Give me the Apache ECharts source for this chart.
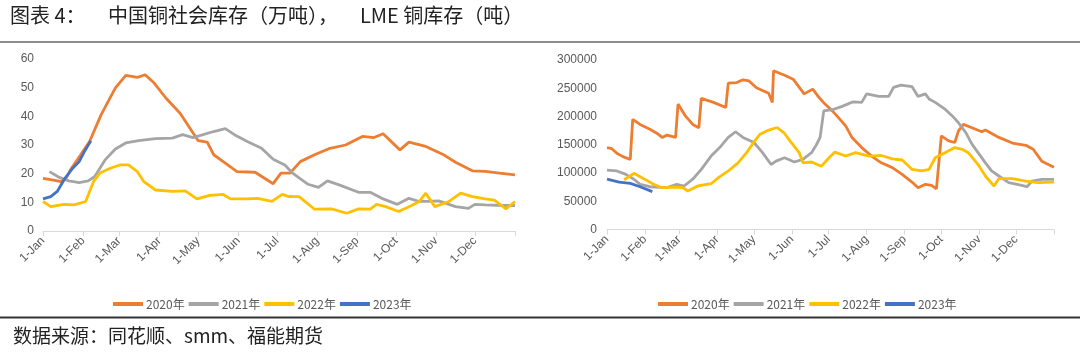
<!DOCTYPE html>
<html><head><meta charset="utf-8">
<script src="https://cdn.jsdelivr.net/npm/echarts@6/dist/echarts.min.js"></script>
<style>html,body{margin:0;padding:0;background:#fff}#c{width:1080px;height:357px}</style>
</head><body><div id="c"></div>
<script>
// ---- data ----
const monthStarts = [0,31,59,90,120,151,181,212,243,273,304,334,365];
const monthLabels = ['1-Jan','1-Feb','1-Mar','1-Apr','1-May','1-Jun','1-Jul','1-Aug','1-Sep','1-Oct','1-Nov','1-Dec'];
const seriesNames = ['2020年','2021年','2022年','2023年'];
const cnTicks = [0,10,20,30,40,50,60];
const lmeTicks = [0,50000,100000,150000,200000,250000,300000];

// 中国铜社会库存（万吨）
const cn2020Days = [0,7,14,18,22,29,36,45,56,64,73,79,86,95,106,112,120,127,132,141,150,164,178,184,191,199,210,221,234,247,256,263,276,283,296,309,319,332,342,353,365];
const cn2020Vals = [18.4,17.8,17.2,18.5,21.9,26.5,31.2,40.6,49.9,54.3,53.6,54.5,51.6,46.4,41.1,37,31.5,31,26.6,23.7,20.7,20.5,16.5,20.2,20.2,24.2,26.6,28.7,30,33,32.6,33.9,28.3,31,29.5,26.8,24,21,20.8,20.2,19.6];
const cn2021Days = [5,13,20,28,35,40,48,56,64,74,87,100,108,116,132,141,148,158,169,178,187,193,205,213,220,229,244,253,262,274,283,291,298,306,319,329,334,342,355,365];
const cn2021Vals = [20.7,18.6,17.5,16.9,17.5,19,24.8,28.6,30.7,31.5,32.2,32.4,33.6,32.6,34.7,35.7,33.6,31.2,28.9,25,23,20.2,16.3,15.2,17.5,16.1,13.5,13.5,11.4,9.3,11.4,10.3,10.3,10.5,8.5,7.9,9.3,9.1,8.9,8.9];
const cn2022Days = [0,6,16,24,33,39,44,52,60,66,73,78,87,100,110,119,129,139,145,158,166,177,185,190,198,210,223,235,244,253,258,265,275,285,291,296,303,314,323,332,342,349,358,365];
const cn2022Vals = [10.3,8.5,9.3,9.1,10.3,17.2,20.2,21.9,23.1,23.1,20.7,17.2,14.3,13.8,14,11.2,12.4,12.8,11.2,11.2,11.4,10.3,12.8,12,12,7.6,7.7,6.2,7.7,7.6,9.3,8.5,6.8,8.9,10.3,13.2,8.5,10.3,13.2,12,11.2,10.8,7.7,10.3];
const cn2023Days = [0,6,11,17,23,28,32,37];
const cn2023Vals = [11.2,12,13.8,18.4,21.9,24.2,27.7,31.5];

// LME 铜库存（吨）
const lme2020Days = [0,4,8,13,19,21,27,35,41,45,49,56,58,64,70,75,77,87,97,99,106,111,116,122,132,135,136,145,152,161,168,173,178,184,189,195,200,208,216,224,233,241,249,254,260,265,269,273,279,284,287,291,298,306,309,320,331,342,348,355,365];
const lme2020Vals = [145000,143000,135000,129000,124000,195000,186000,177500,170000,163000,167000,163000,222000,201000,186000,180000,232000,225000,216000,259000,260000,265000,263000,251000,241000,225000,281000,273000,266000,240000,248500,234000,222000,210000,198000,183000,163000,145000,130000,118000,109500,97600,84000,74000,80000,78000,72000,165700,157000,154000,174600,186000,180000,173000,176000,163000,153000,149000,142000,121000,110000];
const lme2021Days = [0,8,15,22,27,35,49,57,63,70,77,85,92,99,105,111,120,127,134,138,145,153,160,167,171,174,177,184,192,201,208,212,222,230,234,240,249,254,260,263,268,276,282,287,293,298,303,309,314,320,328,335,343,347,355,365];
const lme2021Vals = [105000,103600,98000,89000,80000,75700,74000,80000,77000,89000,106500,130000,145000,163000,173000,163000,154000,136000,115000,121000,127000,119500,124000,136000,150000,163000,210000,212000,218000,226000,225000,240000,235500,235500,251500,255600,253000,235500,240000,231000,225000,213000,201000,189000,171600,151000,136000,118000,103600,94700,82800,80000,75700,85800,88800,88800];
const lme2022Days = [14,22,30,38,45,55,62,66,74,85,91,99,107,114,120,125,132,139,145,150,157,160,167,175,180,186,195,203,214,224,233,241,249,257,263,268,276,284,290,295,303,309,316,320,331,342,352,365];
const lme2022Vals = [88000,99400,90000,80000,74000,75000,74000,68000,77000,81000,91700,103600,118000,136000,155000,168600,176000,180500,170000,155000,136000,118000,119500,112000,124000,137000,130000,136000,130000,131000,125000,123000,106500,103600,106500,127000,136000,145000,142000,136000,115000,94700,77000,90000,90000,85800,82800,84000];
const lme2023Days = [0,10,19,27,37];
const lme2023Vals = [89000,84000,81700,75700,67000];

// ---- chart ----
const colors = ['#ED7D31','#A5A5A5','#FFC000','#4472C4'];
const pair = (d, v) => d.map((x, i) => [x, v[i]]);
const labelFont = '"Liberation Sans", Arial, sans-serif';
const cjkFont = '"Noto Sans CJK SC", "Noto Sans", sans-serif';

function xAxisFor(gi) {
  return {
    type: 'value', gridIndex: gi, min: 0, max: 365,
    splitLine: {show: false},
    axisLine: {show: true, lineStyle: {color: '#D9D9D9', width: 1}},
    axisTick: {show: true, length: 5, lineStyle: {color: '#D9D9D9'}, customValues: monthStarts},
    axisLabel: {
      customValues: monthStarts.slice(0, 12), rotate: 45, margin: 8,
      color: '#595959', fontSize: 12, fontFamily: labelFont,
      formatter: v => monthLabels[monthStarts.indexOf(v)]
    }
  };
}
function yAxisFor(gi, ticks, margin) {
  return {
    type: 'value', gridIndex: gi, min: ticks[0], max: ticks[ticks.length - 1],
    interval: ticks[1] - ticks[0],
    splitLine: {show: false}, axisLine: {show: false}, axisTick: {show: false},
    axisLabel: {color: '#595959', fontSize: 12, fontFamily: labelFont, margin: margin,
      formatter: v => String(v)}
  };
}
function line(name, data, xi, color) {
  return {
    name: name, type: 'line', xAxisIndex: xi, yAxisIndex: xi, data: data,
    showSymbol: false, symbol: 'none', animation: false,
    lineStyle: {color: color, width: 2.8}, itemStyle: {color: color}
  };
}
const legendBase = {
  data: seriesNames, icon: 'rect', itemWidth: 30, itemHeight: 4, itemGap: 4,
  textStyle: {color: '#595959', fontSize: 12, fontFamily: cjkFont, padding: [0, 0, 0, -2]},
  selectedMode: false
};

const chart = echarts.init(document.getElementById('c'), null, {renderer: 'canvas'});
chart.setOption({
  backgroundColor: '#fff',
  animation: false,
  color: colors,
  grid: [
    {left: 43, right: 565, top: 59, bottom: 126},
    {left: 607, right: 26, top: 60, bottom: 127.5}
  ],
  xAxis: [xAxisFor(0), xAxisFor(1)],
  yAxis: [yAxisFor(0, cnTicks, 9), yAxisFor(1, lmeTicks, 10)],
  legend: [
    Object.assign({}, legendBase, {left: 108, top: 293}),
    Object.assign({}, legendBase, {left: 653, top: 293})
  ],
  series: [
    line(seriesNames[0], pair(cn2020Days, cn2020Vals), 0, colors[0]),
    line(seriesNames[1], pair(cn2021Days, cn2021Vals), 0, colors[1]),
    line(seriesNames[2], pair(cn2022Days, cn2022Vals), 0, colors[2]),
    line(seriesNames[3], pair(cn2023Days, cn2023Vals), 0, colors[3]),
    line(seriesNames[0], pair(lme2020Days, lme2020Vals), 1, colors[0]),
    line(seriesNames[1], pair(lme2021Days, lme2021Vals), 1, colors[1]),
    line(seriesNames[2], pair(lme2022Days, lme2022Vals), 1, colors[2]),
    line(seriesNames[3], pair(lme2023Days, lme2023Vals), 1, colors[3])
  ],
  graphic: [
    {type: 'text', left: 10, top: 5, style: {text: '图表 4：', fill: '#222', font: '20px ' + cjkFont}},
    {type: 'text', left: 108, top: 5, style: {text: '中国铜社会库存（万吨），', fill: '#222', font: '20px ' + cjkFont}},
    {type: 'text', left: 360, top: 5, style: {text: 'LME 铜库存（吨）', fill: '#222', font: '20px ' + cjkFont}},
    {type: 'line', shape: {x1: 0, y1: 42, x2: 1080, y2: 42}, style: {stroke: '#666', lineWidth: 1.5}},
    {type: 'line', shape: {x1: 0, y1: 317.5, x2: 1080, y2: 317.5}, style: {stroke: '#333', lineWidth: 2}},
    {type: 'text', left: 13, top: 326, style: {text: '数据来源：同花顺、smm、福能期货', fill: '#222', font: '19px ' + cjkFont}}
  ]
});
</script></body></html>
